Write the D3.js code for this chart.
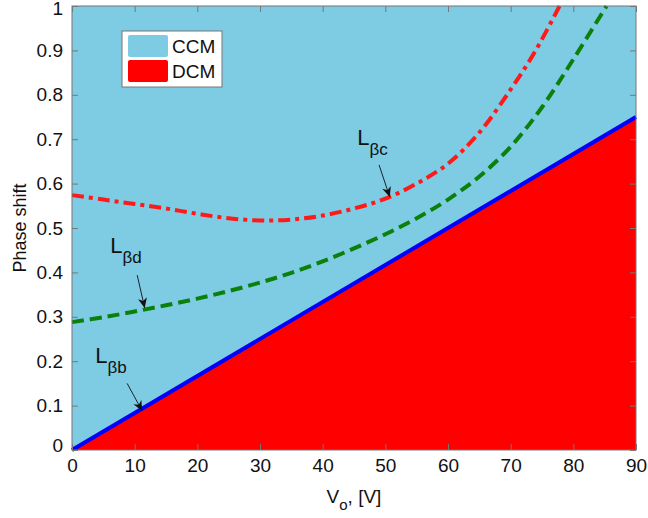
<!DOCTYPE html>
<html>
<head>
<style>
  body, html { margin: 0; padding: 0; background: #fff; }
  text { font-family: "Liberation Sans", Arial, sans-serif; }
</style>
</head>
<body>
<svg id="svg" width="648" height="518"></svg>
<script src="https://d3js.org/d3.v7.min.js"></script>
<script>
// boundary line L_bb (CCM / DCM border)
const vB = [0, 90];
const phiB = [0, 0.75];

// L_bd curve (green dashed)
const vD = [0, 5, 10, 15, 20, 25, 30, 35, 40, 45, 50, 55, 60, 65, 70, 75, 80, 85.3];
const phiD = [0.288, 0.299, 0.312, 0.326, 0.341, 0.358, 0.377, 0.399, 0.425, 0.454, 0.486, 0.522, 0.564, 0.616, 0.683, 0.772, 0.88, 1.0];

// L_bc curve (red dash-dot)
const vC = [0, 5, 10, 15, 20, 25, 30, 35, 40, 45, 50, 55, 60, 65, 70, 74, 77.8];
const phiC = [0.574, 0.564, 0.554, 0.544, 0.532, 0.522, 0.517, 0.519, 0.528, 0.544, 0.566, 0.6, 0.645, 0.715, 0.812, 0.9, 1.0];

const xTicks = [0, 10, 20, 30, 40, 50, 60, 70, 80, 90];
const yTicks = [0, 0.1, 0.2, 0.3, 0.4, 0.5, 0.6, 0.7, 0.8, 0.9, 1];

const legendNames = ['CCM', 'DCM'];
const legendColors = ['#7ECBE4', '#FF0000'];

// labels with arrows, in data units
const notes = [
  { sub: 'βc', lx: 45.5, ly: 0.688, tx: 50.7, ty: 0.570, ax: 49.0, ay: 0.642 },
  { sub: 'βd', lx: 6.1, ly: 0.443, tx: 11.6, ty: 0.320, ax: 10.4, ay: 0.394 },
  { sub: 'βb', lx: 3.7, ly: 0.196, tx: 11.2, ty: 0.088, ax: 8.8, ay: 0.150 }
];

const margin = { left: 72, right: 12, top: 6, bottom: 68 };
const W = 648, H = 518;
const svg = d3.select('#svg');

const x = d3.scaleLinear().domain([0, 90]).range([margin.left, W - margin.right]);
const y = d3.scaleLinear().domain([0, 1]).range([H - margin.bottom, margin.top]);

// CCM background
svg.append('rect')
  .attr('x', x(0)).attr('y', y(1))
  .attr('width', x(90) - x(0)).attr('height', y(0) - y(1))
  .attr('fill', legendColors[0]);

// DCM region
const bPts = vB.map((v, i) => [v, phiB[i]]);
svg.append('path')
  .datum(bPts)
  .attr('d', d3.area().x(d => x(d[0])).y0(y(0)).y1(d => y(d[1])))
  .attr('fill', legendColors[1]);

const line = d3.line().x(d => x(d[0])).y(d => y(d[1])).curve(d3.curveCatmullRom.alpha(0.5));

svg.append('path')
  .datum(vD.map((v, i) => [v, phiD[i]]))
  .attr('d', line)
  .attr('fill', 'none').attr('stroke', '#0B800B')
  .attr('stroke-width', 4).attr('stroke-dasharray', '12,6');

svg.append('path')
  .datum(vC.map((v, i) => [v, phiC[i]]))
  .attr('d', line)
  .attr('fill', 'none').attr('stroke', '#FF1A1A')
  .attr('stroke-width', 4).attr('stroke-dasharray', '12,5,4,5');

svg.append('path')
  .datum(bPts)
  .attr('d', d3.line().x(d => x(d[0])).y(d => y(d[1])))
  .attr('fill', 'none').attr('stroke', '#0000FF').attr('stroke-width', 4);

// box border
svg.append('rect')
  .attr('x', x(0)).attr('y', y(1))
  .attr('width', x(90) - x(0)).attr('height', y(0) - y(1))
  .attr('fill', 'none').attr('stroke', '#777').attr('stroke-width', 1);

// axes
const axisColor = '#777';
const gx = svg.append('g').attr('transform', `translate(0,${y(0)})`)
  .call(d3.axisBottom(x).tickValues(xTicks).tickSize(-6).tickPadding(8).tickFormat(d3.format('d')));
const gxt = svg.append('g').attr('transform', `translate(0,${y(1)})`)
  .call(d3.axisTop(x).tickValues(xTicks).tickSize(-6).tickFormat(''));
const gy = svg.append('g').attr('transform', `translate(${x(0)},0)`)
  .call(d3.axisLeft(y).tickValues(yTicks).tickSize(-6).tickPadding(9).tickFormat(d => d === 0 || d === 1 ? d3.format('d')(d) : d3.format('.1f')(d)));
const gyr = svg.append('g').attr('transform', `translate(${x(90)},0)`)
  .call(d3.axisRight(y).tickValues(yTicks).tickSize(-6).tickFormat(''));

[gx, gxt, gy, gyr].forEach(g => {
  g.select('.domain').remove();
  g.selectAll('.tick line').attr('stroke', axisColor);
  g.selectAll('.tick text')
    .attr('fill', '#111')
    .style('font-size', '19px')
    .style('font-family', '"Liberation Sans", Arial, sans-serif');
});
gx.selectAll('.tick text').attr('dy', '0.75em');
gy.selectAll('.tick text').filter(d => d === 0).attr('dy', '0.1em');
gy.selectAll('.tick text').filter(d => d === 1).attr('dy', '0.45em');

// axis labels
svg.append('text')
  .attr('transform', `translate(26,${(y(0) + y(1)) / 2}) rotate(-90)`)
  .attr('text-anchor', 'middle')
  .style('font-size', '18px').attr('fill', '#111')
  .text('Phase shift');

const xl = svg.append('text')
  .attr('x', (x(0) + x(90)) / 2).attr('y', 503)
  .attr('text-anchor', 'middle')
  .style('font-size', '19px').attr('fill', '#111');
xl.append('tspan').text('V');
xl.append('tspan').attr('dy', 7).style('font-size', '15px').text('o');
xl.append('tspan').attr('dy', -7).text(', [V]');

// legend
const lg = svg.append('g').attr('transform', `translate(122,31)`);
lg.append('rect').attr('width', 100).attr('height', 56)
  .attr('fill', '#fff').attr('stroke', '#777').attr('stroke-width', 1);
legendNames.forEach((n, i) => {
  lg.append('rect').attr('x', 6).attr('y', 4 + i * 25).attr('width', 40).attr('height', 22)
    .attr('rx', 2).attr('fill', legendColors[i]);
  lg.append('text').attr('x', 50).attr('y', 22 + i * 25)
    .style('font-size', '19px').attr('fill', '#111').text(n);
});

// annotations
notes.forEach(n => {
  const t = svg.append('text')
    .attr('x', x(n.lx)).attr('y', y(n.ly))
    .style('font-size', '22px').attr('fill', '#111');
  t.append('tspan').text('L');
  t.append('tspan').attr('dy', 10).style('font-size', '17px').text(n.sub);

  const x1 = x(n.ax), y1 = y(n.ay), x2 = x(n.tx), y2 = y(n.ty);
  svg.append('line')
    .attr('x1', x1).attr('y1', y1).attr('x2', x2).attr('y2', y2)
    .attr('stroke', '#111').attr('stroke-width', 0.9);
  const ang = Math.atan2(y2 - y1, x2 - x1);
  const L = 10, w = 4.5, back = 7;
  const p = (d, s) => [x2 - d * Math.cos(ang) - s * Math.sin(ang), y2 - d * Math.sin(ang) + s * Math.cos(ang)];
  const head = [[x2, y2], p(L, w), p(back, 0), p(L, -w)];
  svg.append('path')
    .attr('d', 'M' + head.map(q => q.join(',')).join('L') + 'Z')
    .attr('fill', '#111');
});
</script>
</body>
</html>
